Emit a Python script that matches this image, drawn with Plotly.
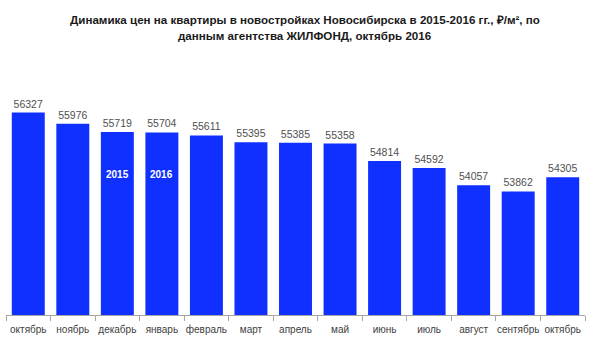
import plotly.graph_objects as go

months = ["октябрь", "ноябрь", "декабрь", "январь", "февраль", "март", "апрель",
          "май", "июнь", "июль", "август", "сентябрь", "октябрь"]
prices = [56327, 55976, 55719, 55704, 55611, 55395, 55385, 55358, 54814, 54592,
          54057, 53862, 54305]
year_labels = ["2015", "2016"]
year_label_pos = [2, 3]
title_lines = ["Динамика цен на квартиры в новостройках Новосибирска в 2015-2016 гг., ₽/м², по",
               "данным агентства ЖИЛФОНД, октябрь 2016"]

x = list(range(len(months)))
boundaries = [i - 0.5 for i in range(len(months) + 1)]

fig = go.Figure()
fig.add_trace(go.Bar(
    x=x, y=prices,
    marker=dict(color="#0f30ff", line=dict(width=0)),
    text=[str(v) for v in prices], textposition="outside",
    textfont=dict(family="Liberation Sans", size=10.5, color="#505050"),
    cliponaxis=False,
    hoverinfo="skip",
))

for lbl, pos in zip(year_labels, year_label_pos):
    fig.add_annotation(x=pos, y=54400, text="<b>" + lbl + "</b>", showarrow=False,
                       font=dict(family="Liberation Sans", size=10, color="white"))

for line, yy in zip(title_lines, [1.3214, 1.25]):
    fig.add_annotation(xref="paper", yref="paper", x=0.517, y=yy, xanchor="center",
                       yanchor="middle", text="<b>" + line + "</b>", showarrow=False,
                       font=dict(family="Liberation Sans", size=11.6, color="#1a1a1a"))

fig.update_layout(
    width=604, height=356,
    margin=dict(l=6, r=19, t=91, b=41),
    paper_bgcolor="white", plot_bgcolor="white",
    bargap=0.26,
    showlegend=False,
    xaxis=dict(
        range=[-0.5, len(months) - 0.5],
        tickvals=x, ticktext=months, ticks="",
        ticklabelstandoff=5,
        tickfont=dict(family="Liberation Sans", size=10, color="#404040"),
        showline=True, linecolor="#a6a6a6", linewidth=1,
        showgrid=False, zeroline=False,
        minor=dict(tickvals=boundaries, ticks="outside", ticklen=5,
                   tickcolor="#a6a6a6", showgrid=False),
    ),
    yaxis=dict(range=[50000, 57000], visible=False, showgrid=False, zeroline=False),
)

fig.write_html("out.html", config={"displayModeBar": False},
               post_script="document.body.style.margin='0';")
